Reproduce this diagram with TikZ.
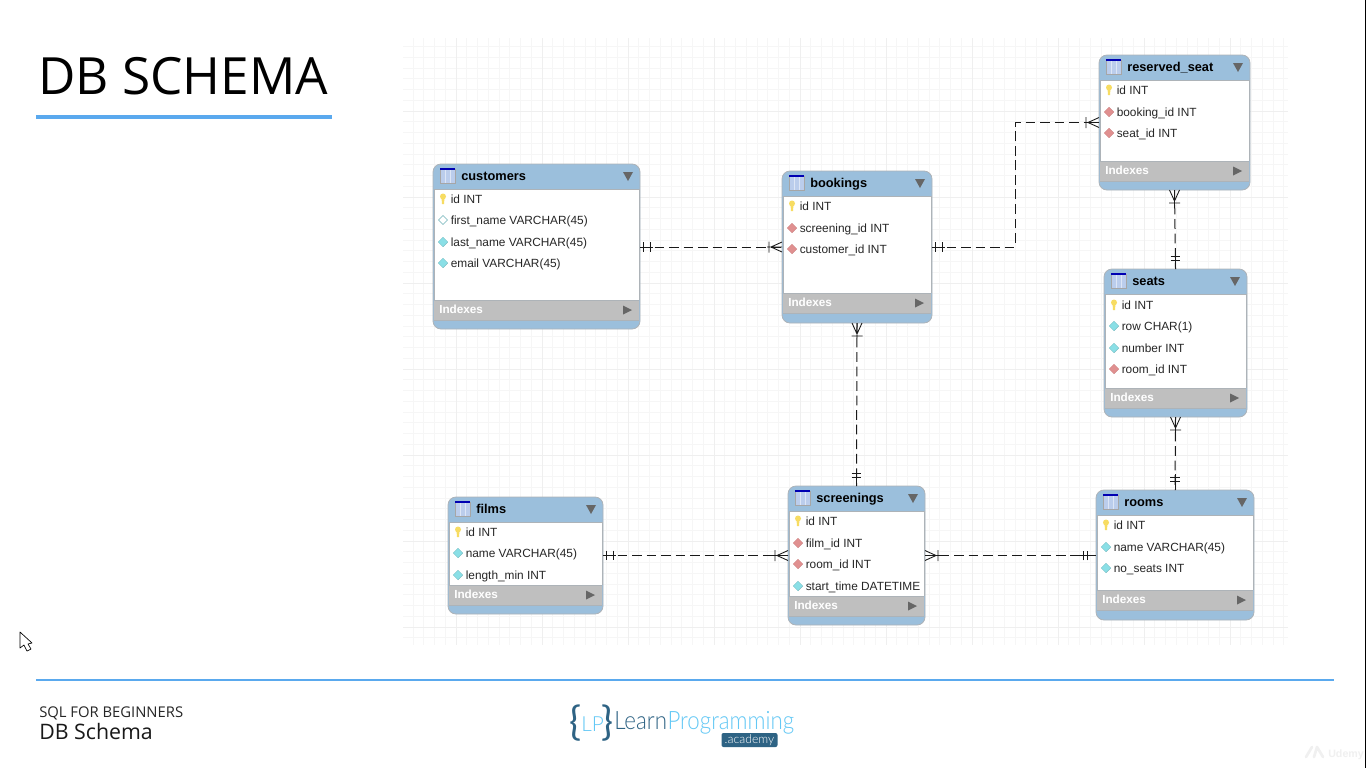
\documentclass[tikz,border=0pt]{standalone}
\usepackage{fontspec}
\setmainfont{Liberation Sans}
\newfontfamily\footfont{Open Sans}
\newfontfamily\logofont{Lato Light}
\newfontfamily\bracefont{Lato}
\usetikzlibrary{positioning}

\definecolor{headblue}{HTML}{9BBFDC}
\definecolor{edgegray}{HTML}{ADB3B8}
\definecolor{bandgray}{HTML}{BFBFBF}
\definecolor{tipgray}{HTML}{666666}
\definecolor{ruleblue}{HTML}{5AA9EE}
\definecolor{keyyellow}{HTML}{F7DC62}
\definecolor{fkred}{HTML}{E09090}
\definecolor{colcyan}{HTML}{8ADFE6}
\definecolor{iconblue}{HTML}{BBCDEC}
\definecolor{gridminor}{HTML}{F6F6F6}
\definecolor{gridmajor}{HTML}{EFEFEF}
\definecolor{logodark}{HTML}{2E6384}
\definecolor{logolight}{HTML}{63C8F5}

\newcommand{\keyicon}[2]{
  \fill[keyyellow] (#1-1.6,#2-3) -- (#1+1.6,#2-3) -- (#1+1,#2+5) -- (#1-1,#2+5) -- cycle;
  \fill[keyyellow] (#1,#2-2.5) circle (3);
}
\newcommand{\fkicon}[2]{\fill[fkred, draw=fkred!90!black, line width=0.2pt] (#1-4.8,#2) -- (#1,#2-4.8) -- (#1+4.8,#2) -- (#1,#2+4.8) -- cycle;}
\newcommand{\colicon}[2]{\fill[colcyan, draw=colcyan!80!black, line width=0.2pt] (#1-4.8,#2) -- (#1,#2-4.8) -- (#1+4.8,#2) -- (#1,#2+4.8) -- cycle;}
\newcommand{\nnicon}[2]{\fill[white, draw=colcyan!80!black, line width=0.4pt] (#1-4.5,#2) -- (#1,#2-4.5) -- (#1+4.5,#2) -- (#1,#2+4.5) -- cycle;}

% name, left, top, right, bottom, top of the Indexes band, title, rows
\newcommand{\entity}[8]{
  \node[tablenode, minimum width={(#4-#2)*0.75pt}, minimum height={(#5-#3)*0.75pt}] (#1) at ({(#2+#4)/2},{(#3+#5)/2}) {};
  \fill[white] (#2+1,#3+25) rectangle (#4-1,#6);
  \fill[bandgray] (#2+1,#6) rectangle (#4-1,#6+20.5);
  \draw[edgegray, line width=0.5pt] (#2+1,#3+25) -- (#4-1,#3+25) (#2+1,#6) -- (#4-1,#6) (#2+1,#6+20.5) -- (#4-1,#6+20.5);
  \draw[edgegray, line width=0.6pt] (#2+1,#3+25) -- (#2+1,#6) (#4-1,#3+25) -- (#4-1,#6);
  \fill[iconblue, draw=black!35, line width=0.3pt] (#2+7,#3+5) rectangle (#2+22,#3+19);
  \draw[blue!70!black, line width=0.8pt] (#2+7,#3+5) -- (#2+22,#3+5);
  \draw[white!50!iconblue, line width=0.3pt] (#2+12,#3+6) -- (#2+12,#3+19) (#2+17,#3+6) -- (#2+17,#3+19);
  \node[titletext] (#1title) at (#2+28,#3+16.2) {#7};
  \fill[tipgray] (#4-17,#3+8) -- (#4-7,#3+8) -- (#4-12,#3+17) -- cycle;
  \node[indextext] (#1index) at (#2+6,#6+13.3) {Indexes};
  \fill[tipgray] (#4-17,#6+5.5) -- (#4-8,#6+10) -- (#4-17,#6+14.5) -- cycle;
  \foreach[count=\i] \y/\icon/\txt in {#8}{
    \icon{#2+10}{\y}
    \node[rowtext] (#1row\i) at (#2+17.5,\y+4) {\txt};
  }
}

\begin{document}
\begin{tikzpicture}[x=0.75pt, y=-0.75pt,
tablenode/.style={rectangle, draw=edgegray, fill=headblue, line width=0.6pt, rounded corners=6pt, inner sep=0pt, outer sep=0pt},
titletext/.style={anchor=base west, inner sep=0pt, font=\fontsize{9.6}{11}\selectfont\bfseries},
rowtext/.style={anchor=base west, inner sep=0pt, text=black!85, font=\fontsize{8.9}{11}\selectfont},
indextext/.style={anchor=base west, inner sep=0pt, text=white, font=\fontsize{8.8}{11}\selectfont\bfseries},
rel/.style={black!90, line width=0.75pt, dash pattern=on 7.3pt off 3.6pt},
markline/.style={black!90, line width=0.65pt},
pics/onemark/.style={code={
  \draw[markline] (0,0) -- (13,0) (3,-4.8) -- (3,4.8) (10,-4.8) -- (10,4.8);
}},
pics/farmark/.style={code={
  \draw[markline] (0,0) -- (16,0) (9,-4.8) -- (9,4.8) (13,-4.8) -- (13,4.8);
}},
pics/crowfoot/.style={code={
  \draw[markline] (0,-5) -- (11,0) -- (0,5) (0,0) -- (15,0) (13,-5.5) -- (13,5.5);
}},
]
\useasboundingbox (0,0) rectangle (1366,768);
\fill[white] (0,0) rectangle (1366,768);

%Grid
\begin{scope}
\clip (403,38) rectangle (1288,645);
\foreach \i in {0,...,83} \draw[gridminor, line width=0.7pt] (402.25+\i*10.75,38) -- (402.25+\i*10.75,645);
\foreach \i in {0,...,57} \draw[gridminor, line width=0.7pt] (403,35.75+\i*10.75) -- (1288,35.75+\i*10.75);
\foreach \i in {0,...,9} \draw[gridmajor, line width=0.7pt] (456+\i*86,38) -- (456+\i*86,645);
\foreach \i in {0,...,6} \draw[gridmajor, line width=0.7pt] (403,111+\i*86) -- (1288,111+\i*86);
\end{scope}

%Slide
\node[anchor=base west, inner sep=0pt, font=\fontsize{38.5}{44}\selectfont\footfont] (slidetitle) at (38,94) {DB SCHEMA};
\draw[ruleblue, line width=3pt] (36,117) -- (332,117);
\draw[ruleblue, line width=1.5pt] (36,680) -- (1334,680);
\node[anchor=base west, inner sep=0pt, font=\fontsize{11.1}{12}\selectfont\footfont, text=black!85] (course) at (39,717) {SQL FOR BEGINNERS};
\node[anchor=base west, inner sep=0pt, font=\fontsize{16}{18}\selectfont\footfont, text=black!90] (lecture) at (39,739) {DB Schema};
\draw[black, line width=0.75pt] (1365.5,0) -- (1365.5,768);

%Nodes
\entity{customers}{433}{164}{640}{329}{300}{customers}{199/\keyicon/id INT, 220/\nnicon/first\_name VARCHAR(45), 242/\colicon/last\_name VARCHAR(45), 263/\colicon/email VARCHAR(45)}
\entity{bookings}{782}{171}{932}{323}{293}{bookings}{206/\keyicon/id INT, 228/\fkicon/screening\_id INT, 249/\fkicon/customer\_id INT}
\entity{reservedseat}{1099}{55}{1250}{190}{161}{reserved\_seat}{90/\keyicon/id INT, 112/\fkicon/booking\_id INT, 133/\fkicon/seat\_id INT}
\entity{seats}{1104}{269}{1247}{417}{388}{seats}{305/\keyicon/id INT, 326/\colicon/row CHAR(1), 348/\colicon/number INT, 369/\fkicon/room\_id INT}
\entity{films}{448}{497}{603}{614}{585}{films}{532/\keyicon/id INT, 553/\colicon/name VARCHAR(45), 575/\colicon/length\_min INT}
\entity{screenings}{788}{486}{925}{625}{596}{screenings}{521/\keyicon/id INT, 543/\fkicon/film\_id INT, 564/\fkicon/room\_id INT, 586/\colicon/start\_time DATETIME}
\entity{rooms}{1096}{490}{1254}{620}{590}{rooms}{525/\keyicon/id INT, 547/\colicon/name VARCHAR(45), 568/\colicon/no\_seats INT}

%Lines
\coordinate (bend) at (1015,200);
\draw[rel] (customers.east |- bookings.west) -- (bookings.west);
\draw[rel] (bookings.east) -| (bend) |- (reservedseat.west);
\draw[rel] (reservedseat.south) -- (seats.north);
\draw[rel] (seats.south) -- (rooms.north);
\draw[rel] (bookings.south) -- (screenings.north);
\draw[rel] (films.east |- screenings.west) -- (screenings.west);
\draw[rel] (screenings.east) -- (rooms.west |- screenings.east);

\pic at (customers.east |- bookings.west) {onemark};
\pic[rotate=180] at (bookings.west) {crowfoot};
\pic at (bookings.east) {onemark};
\pic[rotate=180] at (reservedseat.west) {crowfoot};
\pic[rotate=-90] at (reservedseat.south) {crowfoot};
\pic[rotate=90] at (seats.north) {farmark};
\pic[rotate=-90] at (seats.south) {crowfoot};
\pic[rotate=90] at (rooms.north) {farmark};
\pic[rotate=-90] at (bookings.south) {crowfoot};
\pic[rotate=90] at (screenings.north) {farmark};
\pic at (films.east |- screenings.west) {onemark};
\pic[rotate=180] at (screenings.west) {crowfoot};
\pic at (screenings.east) {crowfoot};
\pic[rotate=180] at (rooms.west |- screenings.east) {farmark};

%Logo
\node[anchor=base west, inner sep=0pt, text=logodark, font=\fontsize{30}{30}\selectfont\bracefont] (logoleft) at (569,735) {\{};
\node[anchor=base west, inner sep=0pt, text=logolight, font=\fontsize{15.6}{16}\selectfont\logofont] (logolp) at (581,731.5) {LP};
\node[anchor=base west, inner sep=0pt, text=logodark, font=\fontsize{30}{30}\selectfont\bracefont] (logoright) at (601,735) {\}};
\node[anchor=base west, inner sep=0pt, text=logodark, font=\fontsize{19}{20}\selectfont\logofont] (logolearn) at (614,729) {\scalebox{.88}[1]{Learn}};
\node[anchor=base west, inner sep=0pt, text=logolight, font=\fontsize{19}{20}\selectfont\logofont] (logoprog) at (logolearn.base east) {\scalebox{.88}[1]{Programming}};
\node[rectangle, fill=logodark, rounded corners=1.5pt, text=white, inner sep=0pt, minimum width=42pt, minimum height=10.5pt, font=\fontsize{9.2}{9}\selectfont\logofont] (logoacademy) at (749.5,740) {.academy};

%Cursor
\draw[black, fill=white, line width=0.5pt, line join=round] (20,632) -- (20,648) -- (24,645) -- (27,651) -- (31,649) -- (28,644) -- (32,643) -- cycle;

%Watermark
\node[anchor=base west, inner sep=0pt, text=black!6, font=\fontsize{8}{9}\selectfont\bfseries] (udemy) at (1328,757) {Udemy};
\draw[black!6, line width=2pt, line cap=round] (1306,757) -- (1312,747) (1314,757) -- (1317,747) (1317,747) -- (1323,757);
\end{tikzpicture}
\end{document}
